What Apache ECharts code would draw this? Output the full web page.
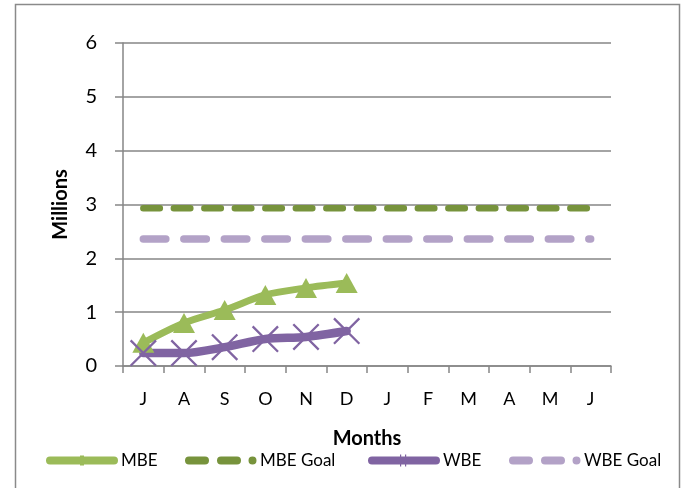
<!DOCTYPE html>
<html>
<head>
<meta charset="utf-8">
<script src="https://cdn.jsdelivr.net/npm/echarts@6/dist/echarts.min.js"></script>
<style>html,body{margin:0;padding:0;background:#fff}#c{width:681px;height:488px}</style>
</head>
<body>
<div id="c"></div>
<script>
var months = ['J','A','S','O','N','D','J','F','M','A','M','J'];
var mbe = [0.43, 0.80, 1.04, 1.32, 1.45, 1.54];
var mbeGoal = [2.93, 2.93, 2.93, 2.93, 2.93, 2.93, 2.93, 2.93, 2.93, 2.93, 2.93, 2.93];
var wbe = [0.24, 0.24, 0.35, 0.50, 0.54, 0.65];
var wbeGoal = [2.36, 2.36, 2.36, 2.36, 2.36, 2.36, 2.36, 2.36, 2.36, 2.36, 2.36, 2.36];
var yTicks = [0, 1, 2, 3, 4, 5, 6];
var legendNames = ['MBE', 'MBE Goal', 'WBE', 'WBE Goal'];

var FONT = 'Lato, "Open Sans", sans-serif';
var crossPath = 'path://M0,1.2 L1.2,0 L20,18.8 L18.8,20 Z M18.8,0 L20,1.2 L1.2,20 L0,18.8 Z';

// legend icons drawn in a 72 x 12 box
var iconSolidTri = 'path://M4,2 L68,2 A4,4 0 0 1 68,10 L4,10 A4,4 0 0 1 4,2 Z M34,1 L38,1 L38,11 L34,11 Z M0,0 L0.01,0 Z M72,12 L71.99,12 Z';
var iconSolidX = 'path://M4,2 L68,2 A4,4 0 0 1 68,10 L4,10 A4,4 0 0 1 4,2 Z M32,0 L33.2,0 L33.2,12 L32,12 Z M37,0 L38.2,0 L38.2,12 L37,12 Z M0,0 L0.01,0 Z M72,12 L71.99,12 Z';
var iconDash = 'path://M4,2 L20,2 A4,4 0 0 1 20,10 L4,10 A4,4 0 0 1 4,2 Z M36,2 L52,2 A4,4 0 0 1 52,10 L36,10 A4,4 0 0 1 36,2 Z M67.5,2 A4,4 0 0 1 67.5,10 A4,4 0 0 1 67.5,2 Z M0,0 L0.01,0 Z M72,12 L71.99,12 Z';
var legendIcons = [iconSolidTri, iconDash, iconSolidX, iconDash];
var legendLefts = [41, 180, 363, 504];

var legends = legendNames.map(function (n, i) {
  return {
    left: legendLefts[i], top: 447,
    itemWidth: 72, itemHeight: 12, itemGap: 0,
    textStyle: {fontFamily: FONT, fontSize: 17, color: '#000', padding: [0, 0, 0, -2]},
    data: [{name: n, icon: legendIcons[i]}]
  };
});

var chart = echarts.init(document.getElementById('c'), null, {renderer: 'canvas'});
chart.setOption({
  animation: false,
  backgroundColor: '#fff',
  graphic: [{
    type: 'rect', left: 13, top: 2, z: -10,
    shape: {x: 0, y: 0, width: 664, height: 500},
    style: {fill: 'none', stroke: '#8a8a8a', lineWidth: 1.5}
  }],
  grid: {left: 123, right: 70, top: 43, bottom: 122},
  legend: legends,
  xAxis: {
    type: 'category', data: months, boundaryGap: true,
    name: 'Months', nameLocation: 'middle', nameGap: 63,
    nameTextStyle: {fontFamily: FONT, fontSize: 20, fontWeight: 'bold', color: '#000'},
    axisLine: {lineStyle: {color: '#868686', width: 1.5}},
    axisTick: {show: true, length: 7, lineStyle: {color: '#868686', width: 1.5}},
    axisLabel: {fontFamily: FONT, fontSize: 18, color: '#000', margin: 24},
    splitLine: {show: false}
  },
  yAxis: {
    type: 'value', min: 0, max: 6, interval: 1,
    name: 'Millions', nameLocation: 'middle', nameGap: 52,
    nameTextStyle: {fontFamily: FONT, fontSize: 20, fontWeight: 'bold', color: '#000'},
    axisLine: {show: true, lineStyle: {color: '#868686', width: 1.5}},
    axisTick: {show: true, length: 8, lineStyle: {color: '#868686', width: 1.5}},
    axisLabel: {fontFamily: FONT, fontSize: 20, color: '#000', margin: 26,
      formatter: function (v) { return yTicks.indexOf(v) >= 0 ? String(v) : ''; }},
    splitLine: {show: true, lineStyle: {color: '#868686', width: 1.5}}
  },
  series: [
    {
      name: 'MBE', type: 'line', data: mbe, smooth: 0.3,
      symbol: 'triangle', symbolSize: [22, 20],
      lineStyle: {color: '#9BBB59', width: 7, cap: 'round'},
      itemStyle: {color: '#9BBB59'}
    },
    {
      name: 'MBE Goal', type: 'line', data: mbeGoal, symbol: 'none',
      lineStyle: {color: '#77933C', width: 6.5, type: [16.5, 14], cap: 'round'},
      itemStyle: {color: '#77933C'}
    },
    {
      name: 'WBE', type: 'line', data: wbe, smooth: 0.3,
      symbol: crossPath, symbolSize: 27,
      lineStyle: {color: '#8064A2', width: 8.5, cap: 'round'},
      itemStyle: {color: '#8064A2'}
    },
    {
      name: 'WBE Goal', type: 'line', data: wbeGoal, symbol: 'none',
      lineStyle: {color: '#B3A2C7', width: 7.5, type: [22.5, 18], cap: 'round'},
      itemStyle: {color: '#B3A2C7'}
    }
  ]
});
</script>
</body>
</html>
